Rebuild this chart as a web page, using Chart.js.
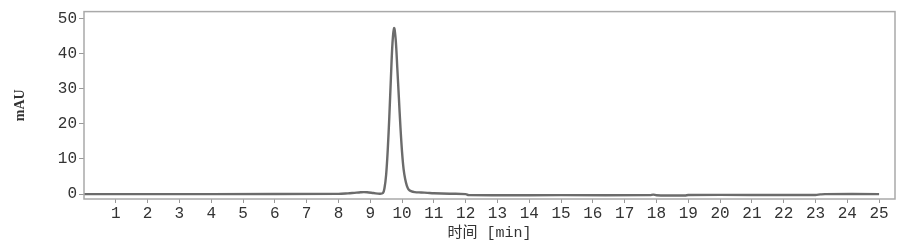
<!DOCTYPE html>
<html>
<head>
<meta charset="utf-8">
<script src="https://cdn.jsdelivr.net/npm/chart.js@4/dist/chart.umd.min.js"></script>
<style>
  html, body { margin: 0; padding: 0; background: #fff; }
  #wrap { width: 917px; height: 242px; }
</style>
</head>
<body>
<div id="wrap"><canvas id="chrom" width="917" height="242"></canvas></div>
<script>
// retention time (min) and absorbance (mAU)
const times = [0, 4, 8.0, 8.3, 8.5, 8.7, 8.8, 8.9, 9.1, 9.3, 9.4, 9.45, 9.5, 9.55, 9.6, 9.65, 9.7, 9.75,
  9.8, 9.85, 9.9, 9.95, 10.0, 10.05, 10.1, 10.15, 10.2, 10.3, 10.4, 10.6, 10.8, 11.0, 11.5, 12.0, 12.1,
  15, 17.8, 17.9, 18.0, 18.5, 18.9, 19.0, 21, 23.0, 23.15, 23.3, 25.0];
const mAU = [0, 0, 0.05, 0.2, 0.35, 0.5, 0.55, 0.5, 0.3, 0.1, 0.3, 1.8, 5.5, 12.5, 22, 33, 43, 47.2,
  44, 36, 27.5, 19, 12, 7, 4.2, 2.4, 1.4, 0.75, 0.55, 0.45, 0.35, 0.25, 0.1, 0.0, -0.3,
  -0.3, -0.3, -0.15, -0.35, -0.4, -0.4, -0.25, -0.25, -0.25, -0.1, 0.0, 0.0];

const xTicks = [1, 2, 3, 4, 5, 6, 7, 8, 9, 10, 11, 12, 13, 14, 15, 16, 17, 18, 19, 20, 21, 22, 23, 24, 25];
const yTicks = [0, 10, 20, 30, 40, 50];

const xTitle = '时间 [min]';
const yTitle = 'mAU';

const fontFam = "'Liberation Mono', 'Noto Sans CJK SC', monospace";

// frame round the plot area
const frame = {
  id: 'frame',
  afterDraw(chart) {
    const a = chart.chartArea, c = chart.ctx;
    c.save();
    c.strokeStyle = '#a9a9a9';
    c.lineWidth = 1.5;
    c.strokeRect(a.left, a.top, a.right - a.left, a.bottom - a.top);
    c.restore();
  }
};

const ctx = document.getElementById('chrom').getContext('2d');
const chart = new Chart(ctx, {
  type: 'scatter',
  data: {
    datasets: [{
      data: times.map((t, i) => ({ x: t, y: mAU[i] })),
      showLine: true,
      borderColor: '#6b6b6b',
      borderWidth: 2.4,
      pointRadius: 0,
      tension: 0.35,
      fill: false
    }]
  },
  options: {
    responsive: false,
    animation: false,
    layout: { padding: { top: 3, right: 22, left: 0, bottom: 0 } },
    plugins: { legend: { display: false }, tooltip: { enabled: false } },
    scales: {
      x: {
        type: 'linear',
        min: 0,
        max: 25.5,
        afterBuildTicks: s => { s.ticks = xTicks.map(v => ({ value: v })); },
        afterFit: s => { s.height = 43; },
        grid: { drawOnChartArea: false, drawTicks: true, tickLength: 4, color: '#999' },
        border: { display: false },
        ticks: { color: '#333', font: { family: fontFam, size: 16 }, padding: 1, maxRotation: 0, autoSkip: false },
        title: { display: true, text: xTitle, color: '#333', font: { family: fontFam, size: 15 }, padding: { top: 0, bottom: 0 } }
      },
      y: {
        min: -1.4,
        max: 51.9,
        afterBuildTicks: s => { s.ticks = yTicks.map(v => ({ value: v })); },
        afterFit: s => { s.width = 84; },
        grid: { drawOnChartArea: false, drawTicks: true, tickLength: 5, color: '#999' },
        border: { display: false },
        ticks: { color: '#333', font: { family: fontFam, size: 16 }, padding: 2 },
        title: { display: true, text: yTitle, color: '#333', font: { family: "'Liberation Serif', serif", size: 14, weight: 'bold' }, padding: { top: 12, bottom: 0 } }
      }
    }
  },
  plugins: [frame]
});
</script>
</body>
</html>
